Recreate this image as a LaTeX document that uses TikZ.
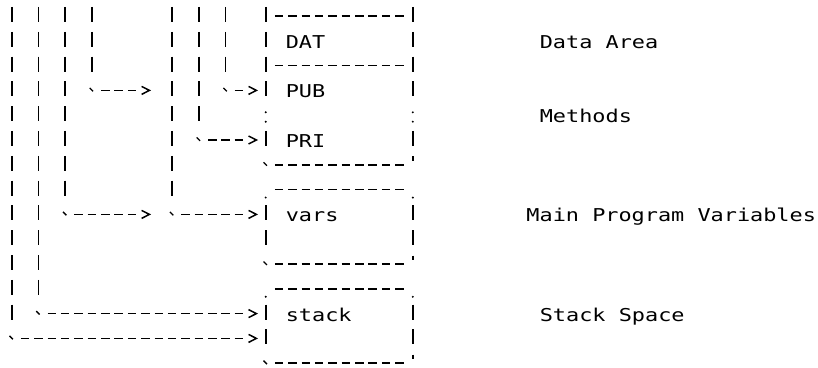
\documentclass[tikz,border=0pt]{standalone}
\usepackage{fontspec}
\newfontfamily\asciimono[FakeStretch=1.235]{DejaVu Sans Mono}

% character grid: column centre and row centre (in pt, 1pt = 1 pixel)
\newcommand\colx[1]{(11.7+13.37*(#1))}
\newcommand\rowy[1]{(352.5-24.8*((#1)-1))}

\tikzset{
  glyph/.style={line width=1.7pt, black},
  vbar/.style={glyph, dash pattern=on 15pt off 9.8pt},
  hdash/.style={glyph, dash pattern=on 8.5pt off 4.87pt},
  chev/.style={glyph, line width=1.5pt, line join=miter},
  tickmark/.style={glyph, line width=1.3pt},
  lbl/.style={font=\asciimono\fontsize{17.7}{20}\selectfont, anchor=base west,
              inner sep=0pt, outer sep=0pt, text=black},
}

% column of '|' characters: col, first row, last row
\newcommand\vrun[3]{\draw[vbar] ({\colx{#1}},{\rowy{#2}+7.5}) -- ({\colx{#1}},{\rowy{#3}-7.5});}
% run of '-' characters: row, first col, last col
\newcommand\hrun[3]{\draw[hdash] ({\colx{#2}-4.25},{\rowy{#1}-1.5}) -- ({\colx{#3}+4.25},{\rowy{#1}-1.5});}
% '>' at col,row
\newcommand\chevron[2]{\draw[chev] ({\colx{#1}-3.8},{\rowy{#2}+2.5}) -- ({\colx{#1}+4},{\rowy{#2}-1.5}) -- ({\colx{#1}-3.8},{\rowy{#2}-5.5});}
% '`' at col,row
\newcommand\btick[2]{\draw[tickmark] ({\colx{#1}-2.2},{\rowy{#2}+1}) -- ({\colx{#1}+1.2},{\rowy{#2}-2.4});}
% '.' at col,row
\newcommand\pdot[2]{\fill ({\colx{#1}},{\rowy{#2}-9.5}) circle (1.1pt);}
% ''' at col,row
\newcommand\apos[2]{\draw[glyph, line width=1.5pt] ({\colx{#1}},{\rowy{#2}+7}) -- ({\colx{#1}},{\rowy{#2}+2.5});}
% ':' at col,row
\newcommand\colondots[2]{\fill ({\colx{#1}},{\rowy{#2}+1.4}) circle (1.1pt) ({\colx{#1}},{\rowy{#2}-8}) circle (1.1pt);}
% pointer: col, last row of '|', arrow row, col of '>'
\newcommand\pointer[4]{%
  \vrun{#1}{1}{#2}
  \btick{#1}{#3}
  \hrun{#3}{#1+1}{#4-1}
  \chevron{#4}{#3}}

\begin{document}
\begin{tikzpicture}[x=1pt, y=1pt]
  \fill[white] (0,0) rectangle (818,367);
  \useasboundingbox (0,0) rectangle (818,367);

  % pointer origins
  \foreach \c in {0,2,4,6,12,14,16}
    \coordinate (ptr\c) at ({\colx{\c}},{\rowy{1}+7.5});

  % first group of pointers
  \pointer{0}{13}{14}{18}
  \pointer{2}{12}{13}{18}
  \pointer{4}{8}{9}{10}
  \pointer{6}{3}{4}{10}
  % second group of pointers
  \pointer{12}{8}{9}{18}
  \pointer{14}{5}{6}{18}
  \pointer{16}{3}{4}{18}

  % data area + methods block
  \vrun{19}{1}{4} \vrun{30}{1}{4}
  \hrun{1}{20}{29} \hrun{3}{20}{29}
  \colondots{19}{5} \colondots{30}{5}
  \vrun{19}{6}{6} \vrun{30}{6}{6}
  \btick{19}{7} \hrun{7}{20}{29} \apos{30}{7}

  % main program variables block
  \pdot{19}{8} \hrun{8}{20}{29} \pdot{30}{8}
  \vrun{19}{9}{10} \vrun{30}{9}{10}
  \btick{19}{11} \hrun{11}{20}{29} \apos{30}{11}

  % stack block
  \pdot{19}{12} \hrun{12}{20}{29} \pdot{30}{12}
  \vrun{19}{13}{14} \vrun{30}{13}{14}
  \btick{19}{15} \hrun{15}{20}{29} \apos{30}{15}

  % labels inside the blocks
  \node[lbl] (dat)   at ({\colx{21}-6.685},{\rowy{2}-9})  {DAT};
  \node[lbl] (pub)   at ({\colx{21}-6.685},{\rowy{4}-9})  {PUB};
  \node[lbl] (pri)   at ({\colx{21}-6.685},{\rowy{6}-9})  {PRI};
  \node[lbl] (vars)  at ({\colx{21}-6.685},{\rowy{9}-9})  {vars};
  \node[lbl] (stack) at ({\colx{21}-6.685},{\rowy{13}-9}) {stack};

  % descriptions
  \node[lbl] (dataarea)   at ({\colx{40}-6.685},{\rowy{2}-9})  {Data Area};
  \node[lbl] (methods)    at ({\colx{40}-6.685},{\rowy{5}-9})  {Methods};
  \node[lbl] (mainvars)   at ({\colx{39}-6.685},{\rowy{9}-9})  {Main Program Variables};
  \node[lbl] (stackspace) at ({\colx{40}-6.685},{\rowy{13}-9}) {Stack Space};
\end{tikzpicture}
\end{document}
